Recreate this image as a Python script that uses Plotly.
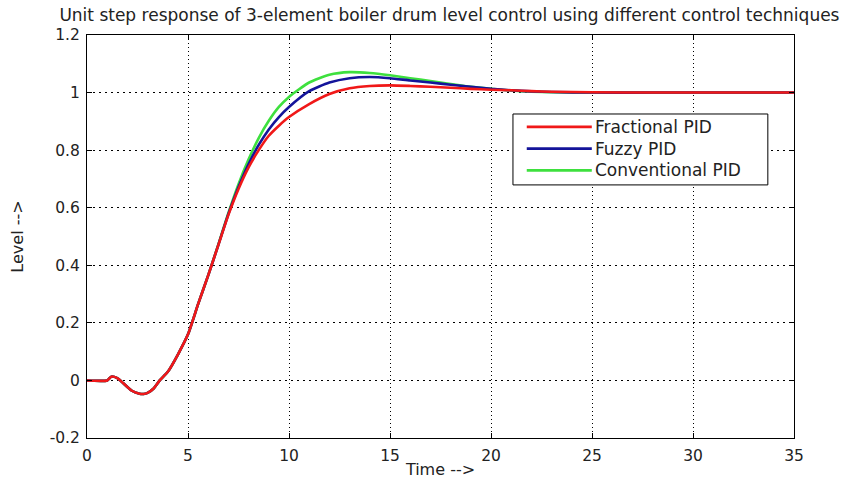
import plotly.graph_objects as go

# Time samples (s)
t = [0, 1.0, 1.2, 1.5, 1.8, 2.2, 2.6, 2.8, 3.0, 3.3, 3.6, 4.0, 4.5, 5.0, 5.5, 6.0,
     6.5, 7.0, 7.5, 8.0, 8.5, 9.0, 9.5, 10, 11, 12, 13, 14, 15, 16, 17, 18, 19,
     20, 21, 22, 23, 25, 28, 35]

# Drum level for each controller
fractional = [0, 0, 0.013, 0.008, -0.01, -0.035, -0.046, -0.047, -0.043, -0.028, 0,
              0.03, 0.09, 0.16, 0.265, 0.365, 0.47, 0.575, 0.665, 0.74, 0.8, 0.85,
              0.885, 0.915, 0.96, 0.995, 1.015, 1.023, 1.025, 1.023, 1.02, 1.017,
              1.013, 1.01, 1.008, 1.005, 1.003, 1.001, 1.0, 1.0]
fuzzy = [0, 0, 0.013, 0.008, -0.01, -0.035, -0.046, -0.047, -0.043, -0.028, 0,
         0.03, 0.09, 0.16, 0.265, 0.365, 0.47, 0.578, 0.672, 0.752, 0.818, 0.872,
         0.915, 0.95, 1.005, 1.035, 1.05, 1.054, 1.05, 1.042, 1.035, 1.027, 1.02,
         1.013, 1.008, 1.004, 1.002, 1.0, 1.0, 1.0]
conventional = [0, 0, 0.013, 0.008, -0.01, -0.035, -0.046, -0.047, -0.043, -0.028, 0,
                0.03, 0.09, 0.16, 0.265, 0.365, 0.472, 0.582, 0.682, 0.768, 0.842,
                0.902, 0.95, 0.985, 1.035, 1.062, 1.071, 1.068, 1.06, 1.05, 1.04,
                1.03, 1.02, 1.013, 1.007, 1.003, 1.001, 1.0, 1.0, 1.0]

names = ["Fractional PID", "Fuzzy PID", "Conventional PID"]
colors = ["#f01818", "#14149a", "#3ee03e"]
series = [fractional, fuzzy, conventional]

x_ticks = [0, 5, 10, 15, 20, 25, 30, 35]
y_ticks = [-0.2, 0, 0.2, 0.4, 0.6, 0.8, 1.0, 1.2]
y_labels = ["-0.2", "0", "0.2", "0.4", "0.6", "0.8", "1", "1.2"]

fig = go.Figure()
# draw green first, red last so the red curve sits on top
for i in [2, 1, 0]:
    fig.add_trace(go.Scatter(x=t, y=series[i], name=names[i], mode="lines",
                             line=dict(color=colors[i], width=2.6, shape="spline",
                                       smoothing=0.6),
                             showlegend=False))

font_family = "DejaVu Sans, Verdana, sans-serif"
text_color = "#222"
axis_common = dict(showline=True, linecolor="black", linewidth=1, mirror="ticks",
                   ticks="inside", ticklen=5, tickcolor="black", automargin=False,
                   showgrid=True, gridcolor="black", gridwidth=1,
                   zeroline=False, tickfont=dict(family=font_family, size=15.5, color=text_color))

fig.update_layout(
    width=861, height=479,
    margin=dict(l=87, r=67, t=35, b=41),
    paper_bgcolor="white", plot_bgcolor="white",
    title=dict(text="Unit step response of 3-element boiler drum level control using different control techniques",
               x=0.522, xanchor="center", y=0.969, yanchor="middle",
               font=dict(family=font_family, size=17, color=text_color)),
    xaxis=dict(range=[0, 35], tickvals=x_ticks, ticktext=[str(v) for v in x_ticks],
               griddash="1px,3px", ticklabelstandoff=3,
               title=dict(text="Time -->", standoff=2,
                          font=dict(family=font_family, size=16, color=text_color)),
               **axis_common),
    yaxis=dict(range=[-0.2, 1.2], tickvals=y_ticks, ticktext=y_labels,
               griddash="1.5px,4.5px", ticklabelstandoff=3,
               title=dict(text="Level -->", standoff=22,
                          font=dict(family=font_family, size=16, color=text_color)),
               **axis_common),
)

# legend box with line samples
lx0, lx1, ly0, ly1 = 0.6025, 0.963, 0.628, 0.804
fig.add_shape(type="rect", xref="paper", yref="paper", x0=lx0, x1=lx1, y0=ly0, y1=ly1,
              line=dict(color="black", width=1), fillcolor="white")
row_y = [0.772, 0.718, 0.664]
for i in range(3):
    fig.add_shape(type="line", xref="paper", yref="paper", x0=0.622, x1=0.714,
                  y0=row_y[i], y1=row_y[i], line=dict(color=colors[i], width=2.6))
    fig.add_annotation(xref="paper", yref="paper", x=0.716, y=row_y[i], text=names[i],
                       showarrow=False, xanchor="left", yanchor="middle",
                       font=dict(family=font_family, size=17, color=text_color))

fig.write_html("out.html")
